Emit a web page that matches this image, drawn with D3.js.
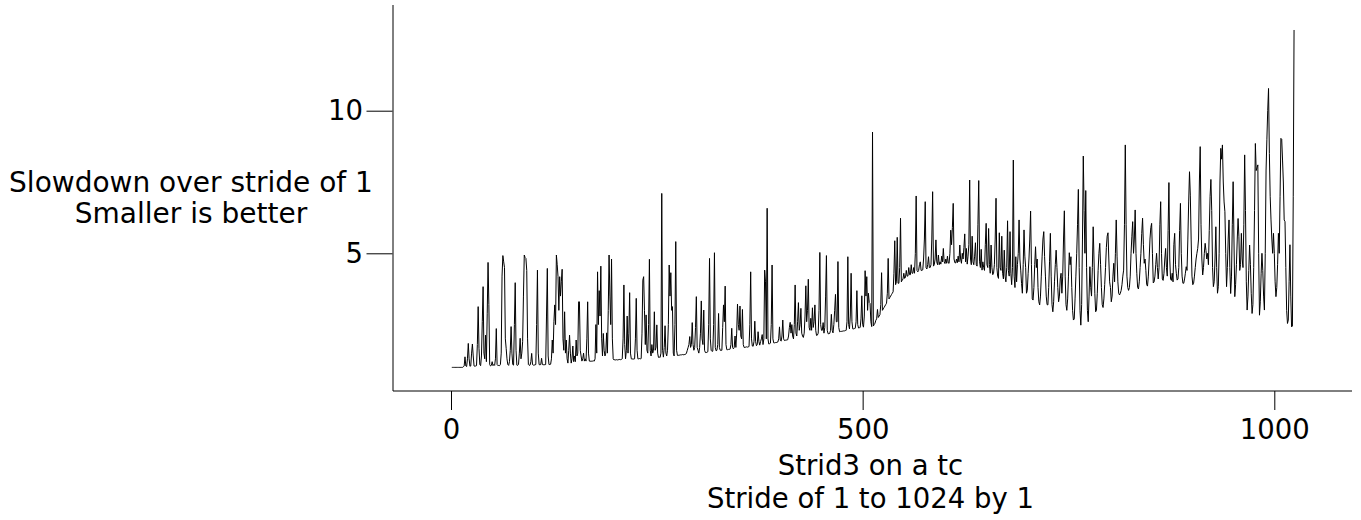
<!DOCTYPE html>
<html>
<head>
<meta charset="utf-8">
<script src="https://cdn.jsdelivr.net/npm/d3@7"></script>
<style>
  html, body { margin: 0; padding: 0; background: #fff; }
  svg { display: block; }
  text { font-family: "DejaVu Sans", sans-serif; fill: #000; }
</style>
</head>
<body>
<svg id="chart" width="1361" height="520"></svg>
<script>
// ---- data ----
const xTickValues = [0, 500, 1000];
const yTickValues = [5, 10];
const yTitleLines = ["Slowdown over stride of 1", "Smaller is better"];
const xTitleLines = ["Strid3 on a tc", "Stride of 1 to 1024 by 1"];
// slowdown for stride = 1 .. 1024
const slowdown = [
1.0,1.0,1.0,1.0,1.0,1.0,1.0,1.0,1.0,1.0,1.0,1.0,1.0,1.0,1.02,1.05,
1.37,1.05,1.03,1.3,1.84,1.3,1.04,1.05,1.5,1.82,1.4,1.05,1.04,1.05,1.06,1.8,
3.13,1.67,1.1,1.06,1.4,2.6,3.83,1.5,1.3,2.13,1.2,2.9,4.68,3.2,1.1,1.05,
1.07,1.2,1.06,1.1,1.07,1.3,2.36,1.1,1.06,1.07,1.06,1.1,1.5,4.2,4.92,4.7,
4.5,2.0,1.67,1.3,1.1,1.07,1.2,1.6,2.43,1.5,1.1,1.08,2.5,3.97,1.6,1.08,
1.07,1.1,1.5,2.02,1.3,1.5,1.9,3.5,4.94,4.85,4.82,4.4,2.0,1.1,1.07,1.08,
1.2,1.49,1.1,1.08,1.08,1.09,1.1,2.5,4.41,1.5,1.1,1.09,1.1,1.32,1.1,1.09,
1.1,1.09,1.1,2.8,4.47,1.4,1.1,1.1,1.11,1.3,1.96,1.5,2.6,3.19,2.5,4.94,
4.6,4.18,3.0,4.18,3.5,4.0,4.44,2.0,1.6,2.95,1.5,1.96,1.3,1.15,1.6,2.13,
1.5,1.15,1.3,1.75,1.2,1.4,1.2,1.96,1.4,1.5,3.3,3.3,1.6,1.4,1.22,1.3,
1.5,1.22,1.3,1.22,2.0,3.3,1.5,1.22,1.22,1.21,1.22,1.22,1.23,1.22,1.3,2.5,
1.5,4.35,2.5,3.69,2.8,4.55,2.0,1.4,2.19,1.6,1.4,1.5,2.21,1.5,3.0,4.94,
3.5,2.5,4.8,2.0,1.3,1.26,1.27,1.26,1.27,1.26,1.27,1.27,1.28,1.27,1.28,1.3,
2.0,3.89,1.8,1.3,1.6,2.8,1.5,2.2,3.62,1.5,1.3,1.29,1.3,1.29,1.3,2.0,
3.42,1.6,1.3,1.3,1.31,1.3,1.31,2.2,4.06,4.18,3.0,1.8,2.84,1.6,1.5,2.5,
4.79,1.6,1.4,1.8,1.5,1.6,2.95,1.6,1.7,2.49,1.5,1.35,1.36,1.35,1.5,7.1,
1.6,1.36,1.7,2.46,1.5,1.4,1.6,2.5,4.59,3.5,4.32,3.0,3.13,1.5,1.4,2.5,
5.41,1.6,1.42,1.42,1.43,1.43,1.44,1.44,1.45,1.44,1.45,1.45,1.46,1.5,1.6,1.7,
1.8,2.08,1.7,1.8,2.57,1.8,1.6,1.7,2.4,3.48,1.7,1.6,1.5,1.7,2.2,3.33,
2.0,1.8,3.01,1.6,1.52,1.52,1.53,1.55,2.5,4.82,2.0,1.6,1.56,1.57,2.5,5.02,
1.7,1.58,1.6,1.8,2.89,1.7,1.6,1.6,1.6,2.4,3.19,2.6,3.85,1.8,1.62,1.62,
1.63,1.63,1.64,1.8,2.37,1.7,1.65,1.7,2.1,1.7,2.2,3.22,2.5,2.3,3.15,2.1,
2.0,3.03,1.8,1.7,1.7,1.71,1.72,1.71,1.72,1.73,2.5,4.35,2.0,1.75,1.74,1.9,
2.62,1.9,1.76,1.8,2.25,1.9,1.78,1.9,2.0,2.15,1.8,2.0,4.41,4.0,2.0,6.58,
2.0,1.82,1.83,1.85,2.5,4.59,2.0,1.86,1.86,1.87,1.87,1.88,1.89,2.0,2.42,1.95,
1.92,2.1,2.66,2.0,1.94,1.95,1.96,1.96,1.97,2.1,2.4,2.58,2.2,2.5,2.1,2.0,
2.5,3.89,2.2,2.1,2.6,3.27,2.3,2.5,3.07,2.2,2.1,2.05,2.2,2.8,3.86,2.6,
3.0,4.09,2.4,2.3,2.72,2.3,3.09,2.4,2.6,3.19,2.3,2.12,2.13,2.2,3.0,5.03,
2.5,2.3,2.3,2.57,2.2,2.4,3.5,4.92,2.3,2.18,2.18,2.19,2.3,2.86,2.3,2.21,
2.5,3.0,3.56,2.6,2.6,4.71,2.4,2.25,2.26,2.26,2.27,2.27,2.28,2.28,2.29,2.3,
2.6,4.88,2.5,2.35,2.8,4.3,2.6,2.35,2.35,2.36,2.37,2.6,3.69,2.5,2.38,2.39,
2.4,2.7,3.51,2.5,2.41,2.8,4.39,3.5,4.18,3.0,3.6,3.27,3.24,2.6,2.43,9.25,
2.45,2.5,2.55,2.65,2.7,3.03,2.75,2.8,2.85,3.2,4.32,3.0,3.05,3.1,3.15,3.2,
3.25,3.6,4.82,3.4,3.45,3.5,3.55,3.6,3.65,4.3,5.44,3.9,4.0,5.56,3.95,3.95,
4.5,6.23,4.0,4.05,4.1,4.3,4.12,4.15,4.4,4.2,4.2,4.5,4.25,4.25,4.6,4.3,
4.3,4.5,4.3,5.0,7.01,4.4,4.35,4.4,4.6,4.7,4.4,4.4,4.42,4.8,5.5,6.81,
4.5,4.45,4.6,4.88,4.5,4.5,4.6,5.5,7.16,4.55,4.6,4.8,5.47,4.7,4.6,4.94,
4.6,4.7,4.62,4.9,4.7,5.17,4.7,4.64,4.8,4.65,4.9,4.66,4.65,5.0,5.81,5.3,
5.9,6.75,4.8,4.67,4.66,4.8,4.67,4.9,4.7,5.29,4.8,4.65,5.0,4.8,5.2,5.68,
4.7,5.17,4.62,4.9,5.3,7.57,4.8,4.6,5.6,4.7,4.6,4.9,5.37,4.6,4.55,6.0,
7.55,4.7,4.5,5.14,4.41,4.7,4.5,4.4,5.3,6.05,4.6,4.5,5.87,4.6,4.3,5.29,
4.5,4.25,4.3,4.6,5.5,6.93,4.5,4.2,4.12,5.72,4.5,4.4,5.6,4.3,4.1,5.11,
4.2,4.0,4.5,6.14,4.4,4.2,5.76,4.3,3.9,4.5,8.27,4.2,3.8,4.88,4.0,4.6,
5.0,6.17,4.8,4.41,3.94,3.6,4.6,5.82,4.9,4.5,3.6,3.7,4.3,4.8,5.5,6.48,
4.6,3.4,3.36,3.8,4.6,5.23,4.5,4.8,3.8,3.3,3.19,3.5,4.2,4.9,5.5,5.76,
4.88,4.2,3.5,3.2,3.19,3.8,4.7,5.7,4.2,3.2,2.95,3.3,4.0,4.6,5.11,4.5,
3.8,3.3,3.5,4.1,4.3,3.6,4.2,5.5,6.49,4.2,3.2,3.0,3.4,4.2,5.02,4.6,
4.88,3.8,3.0,2.66,2.7,3.4,4.2,5.0,6.0,7.24,4.5,3.0,2.48,3.2,5.5,8.41,
6.5,5.0,7.2,4.5,3.0,2.6,3.5,4.53,3.8,3.5,4.5,5.93,4.8,3.6,2.95,3.01,
3.6,4.4,5.0,5.35,4.6,3.8,3.2,3.1,3.4,3.9,4.5,5.2,5.6,5.72,4.8,4.0,
3.8,3.3,3.5,4.2,4.65,4.0,5.0,6.17,4.9,4.0,3.6,3.54,3.6,3.7,3.9,4.2,
4.41,6.0,8.8,6.0,4.2,3.8,3.7,3.8,4.2,5.0,5.6,6.11,5.0,5.5,6.52,5.0,
4.3,3.8,3.75,4.0,4.5,5.0,5.7,6.23,5.3,4.65,4.8,4.4,3.9,3.85,4.2,4.8,
5.5,5.9,6.05,5.0,3.96,4.0,4.2,4.6,5.0,4.5,4.1,4.5,6.0,6.81,5.0,4.1,
4.05,4.3,4.8,5.17,4.5,4.2,5.8,7.48,4.8,4.1,4.05,4.3,4.0,5.3,5.7,4.6,
4.3,4.06,4.1,4.5,5.8,6.75,5.0,4.2,3.95,3.95,4.1,4.3,4.53,4.4,5.5,6.8,
7.86,7.04,5.5,4.2,3.9,3.95,4.2,4.5,4.8,5.0,5.17,5.5,7.5,8.74,6.0,4.8,
4.24,4.5,5.0,5.35,5.1,4.8,5.0,4.6,5.8,7.0,7.59,6.5,4.5,3.83,4.0,4.8,
5.93,4.5,3.6,3.83,5.0,7.5,8.68,8.3,8.8,7.5,6.8,6.46,5.0,3.83,4.5,5.5,
6.17,4.5,3.59,4.2,6.0,7.51,5.5,3.48,3.9,4.6,5.5,6.22,5.6,4.4,4.6,5.7,
4.8,4.5,6.0,8.45,6.5,4.0,3.01,3.5,4.4,5.29,4.6,3.6,2.89,3.2,4.5,6.5,
8.85,7.9,8.0,8.1,5.0,2.83,3.3,4.3,5.0,4.4,3.5,3.01,5.0,7.92,9.0,10.0,
10.78,8.5,7.0,6.17,5.5,5.0,5.7,5.0,4.0,3.48,3.8,4.6,5.7,5.0,7.0,9.03,
9.0,8.27,7.5,6.17,6.11,4.5,3.0,2.54,2.66,4.0,5.3,3.5,2.42,2.45,7.0,12.83
];

// ---- layout ----
const svg = d3.select("#chart");
const FONT = 27.5;
const axisLeftX = 393, axisBottomY = 391;
const x = d3.scaleLinear().domain([0, 1000]).range([451, 1274.3]);
const y = d3.scaleLinear().domain([5, 10]).range([253.3, 110.7]);

// axis lines
svg.append("line")
  .attr("x1", axisLeftX).attr("x2", axisLeftX)
  .attr("y1", 5).attr("y2", axisBottomY)
  .attr("stroke", "#000").attr("stroke-width", 1);
svg.append("line")
  .attr("x1", axisLeftX).attr("x2", 1352)
  .attr("y1", axisBottomY).attr("y2", axisBottomY)
  .attr("stroke", "#000").attr("stroke-width", 1);

// x axis
const gx = svg.append("g")
  .attr("transform", `translate(0,${axisBottomY})`)
  .call(d3.axisBottom(x).tickValues(xTickValues).tickSize(19).tickFormat(d3.format("d")));
gx.select(".domain").remove();
gx.selectAll(".tick line").attr("stroke", "#000").attr("stroke-width", 1);
gx.selectAll(".tick text")
  .attr("y", 48.3).attr("dy", null)
  .style("font-family", '"DejaVu Sans", sans-serif')
  .style("font-size", FONT + "px").attr("fill", "#000");

// y axis
const gy = svg.append("g")
  .attr("transform", `translate(${axisLeftX - 0.5},0)`)
  .call(d3.axisLeft(y).tickValues(yTickValues).tickSize(26).tickFormat(d3.format("d")));
gy.select(".domain").remove();
gy.selectAll(".tick line").attr("stroke", "#000").attr("stroke-width", 1);
gy.selectAll(".tick text")
  .attr("x", -29.5).attr("y", 8.8).attr("dy", null)
  .style("font-family", '"DejaVu Sans", sans-serif')
  .style("font-size", FONT + "px").attr("fill", "#000");

// y title
const yT = svg.append("text")
  .attr("text-anchor", "middle")
  .style("font-size", "28px");
yTitleLines.forEach((t, i) => {
  yT.append("tspan").attr("x", 191).attr("y", 191.5 + i * 31.5).text(t);
});

// x title
const xT = svg.append("text")
  .attr("text-anchor", "middle")
  .style("font-size", FONT + "px");
xTitleLines.forEach((t, i) => {
  xT.append("tspan").attr("x", 870.5).attr("y", 475 + i * 33.3).text(t);
});

// data line
const line = d3.line()
  .x((d, i) => x(i + 1))
  .y(d => y(d));
svg.append("path")
  .datum(slowdown)
  .attr("fill", "none")
  .attr("stroke", "#000")
  .attr("stroke-width", 1)
  .attr("stroke-linejoin", "miter")
  .attr("d", line);
</script>
</body>
</html>
